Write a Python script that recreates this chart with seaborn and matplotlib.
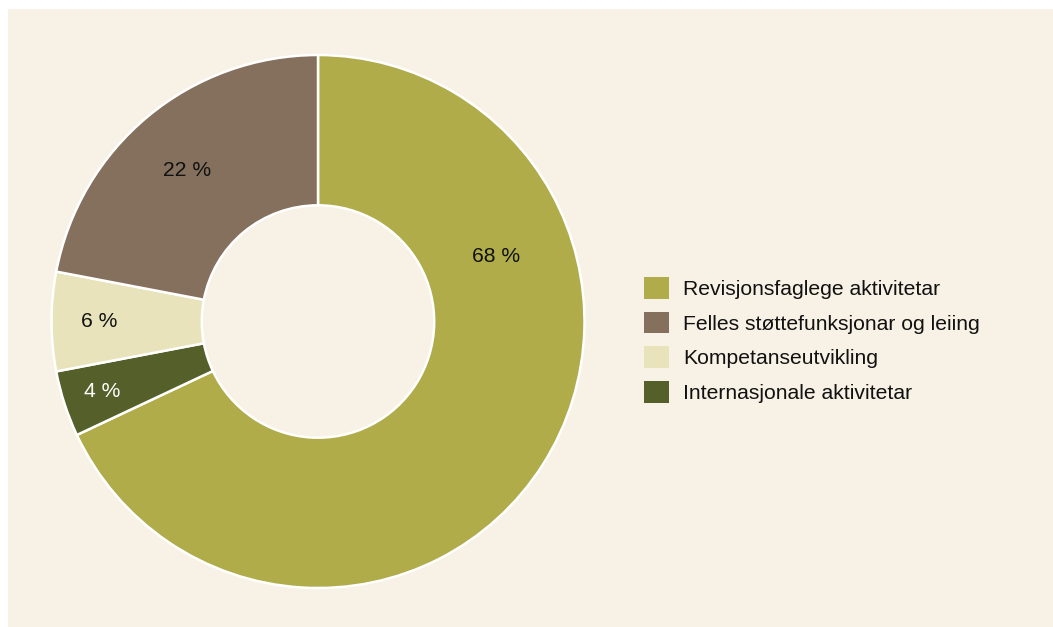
import numpy as np
import matplotlib
matplotlib.use("Agg")
import matplotlib.pyplot as plt
import seaborn as sns
from matplotlib.patches import Rectangle

# Data
categories = ["Revisjonsfaglege aktivitetar", "Internasjonale aktivitetar",
              "Kompetanseutvikling", "Felles støttefunksjonar og leiing"]
values = [68, 4, 6, 22]
colors = ["#b0ac4a", "#555f2a", "#e8e3bb", "#84705d"]
label_colors = ["#111111", "white", "#111111", "#111111"]
legend_order = [0, 3, 2, 1]

# label placement (style): radius fraction, optional angle override
label_radius = [0.71, 0.85, 0.82, 0.75]
label_angle_override = {0: 20, 3: 131}

sns.set_theme(style="white")
plt.rcParams['font.family'] = ['Liberation Sans', 'DejaVu Sans']

BG = "#f8f1e5"
FS = 15.2
fig = plt.figure(figsize=(10.53, 6.27), dpi=100, facecolor="white")
fig.patches.append(Rectangle((8 / 1053, 0), 1, 1 - 9 / 627, transform=fig.transFigure,
                             facecolor=BG, edgecolor="none", zorder=-10))

ax = fig.add_axes([(318 - 266.5) / 1053, 39 / 627, 533 / 1053, 533 / 627])
ax.set_facecolor("none")
wedges, _ = ax.pie(values, colors=colors, startangle=90, counterclock=False,
                   radius=1.0,
                   wedgeprops=dict(width=0.564, edgecolor="white", linewidth=1.8))
ax.set_xlim(-1, 1)
ax.set_ylim(-1, 1)
ax.set_aspect("equal")
ax.axis("off")

# percentage labels
total = sum(values)
for i, (v, w) in enumerate(zip(values, wedges)):
    mid = label_angle_override.get(i, (w.theta1 + w.theta2) / 2)
    r = label_radius[i]
    x, y = r * np.cos(np.radians(mid)), r * np.sin(np.radians(mid))
    ax.text(x, y, f"{round(v / total * 100)} %", ha="center", va="center",
            fontsize=FS, color=label_colors[i])

handles = [wedges[i] for i in legend_order]
labels = [categories[i] for i in legend_order]
fig.legend(handles, labels, loc="center left",
           bbox_to_anchor=(644 / 1053, 1 - 340 / 627), frameon=False,
           fontsize=FS, handlelength=1.2, handleheight=1.2, handletextpad=0.65,
           labelspacing=0.6, borderpad=0, borderaxespad=0, labelcolor="#111111")
for h in fig.legends[0].legend_handles:
    h.set_edgecolor("none")

fig.savefig("out.png", dpi=100, facecolor=fig.get_facecolor())
